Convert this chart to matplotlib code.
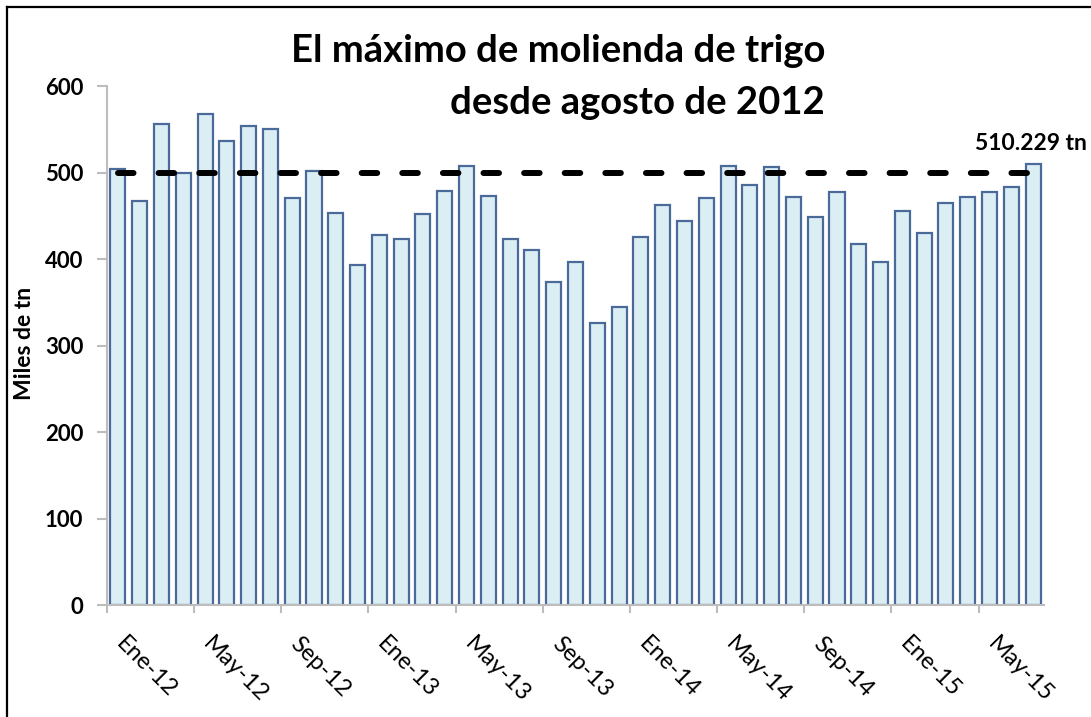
import matplotlib
matplotlib.use("Agg")
import matplotlib.pyplot as plt
import matplotlib.transforms as mtransforms
from matplotlib.lines import Line2D
import numpy as np

plt.rcParams['font.family'] = ['Lato', 'DejaVu Sans']

# Monthly wheat milling, Jan-2012 .. Jul-2015 (thousand tonnes)
months = ["Ene-12", "Feb-12", "Mar-12", "Abr-12", "May-12", "Jun-12", "Jul-12", "Ago-12",
          "Sep-12", "Oct-12", "Nov-12", "Dic-12",
          "Ene-13", "Feb-13", "Mar-13", "Abr-13", "May-13", "Jun-13", "Jul-13", "Ago-13",
          "Sep-13", "Oct-13", "Nov-13", "Dic-13",
          "Ene-14", "Feb-14", "Mar-14", "Abr-14", "May-14", "Jun-14", "Jul-14", "Ago-14",
          "Sep-14", "Oct-14", "Nov-14", "Dic-14",
          "Ene-15", "Feb-15", "Mar-15", "Abr-15", "May-15", "Jun-15", "Jul-15"]
values = [504, 467, 556, 500, 568, 536, 554, 550, 471, 502, 453, 393,
          428, 423, 452, 479, 508, 473, 423, 410, 373, 396, 326, 345,
          426, 462, 444, 470, 507, 485, 506, 472, 449, 478, 417, 397,
          455, 430, 465, 472, 477, 483, 510.229]
reference_level = 500
label_step = 4
yticks = [0, 100, 200, 300, 400, 500, 600]
title_line1 = "El máximo de molienda de trigo"
title_line2 = "desde agosto de 2012"
ylabel = "Miles de tn"
annotation = "510.229 tn"

W, H = 1091, 717
fig = plt.figure(figsize=(W / 100, H / 100), dpi=100)
ax = fig.add_axes([107 / W, 1 - 605 / H, (1044 - 107) / W, (605 - 86) / H])

x = np.arange(len(values))
ax.bar(x, values, width=0.69, color="#DBEEF4", edgecolor="#4A6A9A", linewidth=1.6, zorder=2)

ax.plot([x[0], x[-1]], [reference_level, reference_level], color="black", lw=4.3,
        dashes=(2.6, 4.2), dash_capstyle="round", zorder=3)

ax.set_xlim(-0.5, len(values) - 0.5)
ax.set_ylim(0, 600)

axis_gray = "#BDBDBD"
for s in ["top", "right"]:
    ax.spines[s].set_visible(False)
for s in ["left", "bottom"]:
    ax.spines[s].set_color(axis_gray)
    ax.spines[s].set_linewidth(1.5)

ax.set_yticks(yticks)
ax.set_yticklabels([str(v) for v in yticks], fontsize=16, fontweight="bold")
ax.tick_params(axis="y", length=7, width=1.5, color=axis_gray, pad=10)

tick_pos = np.arange(0, len(values), label_step) - 0.5
ax.set_xticks(tick_pos)
ax.set_xticklabels([months[i] for i in range(0, len(values), label_step)],
                   rotation=-45, ha="left", va="top", fontsize=17)
ax.tick_params(axis="x", length=6, width=1.5, color=axis_gray, pad=14)
offset = mtransforms.ScaledTranslation(5 / 100, 0, fig.dpi_scale_trans)
for lbl in ax.get_xticklabels():
    lbl.set_transform(lbl.get_transform() + offset)

# Title (two right-aligned lines)
fig.text(825 / W, 1 - 62 / H, title_line1, ha="right", va="baseline",
         fontsize=27.5, fontweight="bold")
fig.text(825 / W, 1 - 114 / H, title_line2, ha="right", va="baseline",
         fontsize=27.5, fontweight="bold")

fig.text(25 / W, 1 - 343 / H, ylabel, rotation=90, ha="center", va="center",
         fontsize=16.5, fontweight="bold")

fig.text(975 / W, 1 - 150 / H, annotation, ha="left", va="baseline",
         fontsize=16.5, fontweight="bold")

# Outer frame (left and top edges)
fig.add_artist(Line2D([7 / W, 7 / W], [0, 1 - 7 / H], color="black", lw=1.6,
                      transform=fig.transFigure))
fig.add_artist(Line2D([7 / W, 1], [1 - 7 / H, 1 - 7 / H], color="black", lw=1.6,
                      transform=fig.transFigure))

fig.savefig("out.png", dpi=100)
